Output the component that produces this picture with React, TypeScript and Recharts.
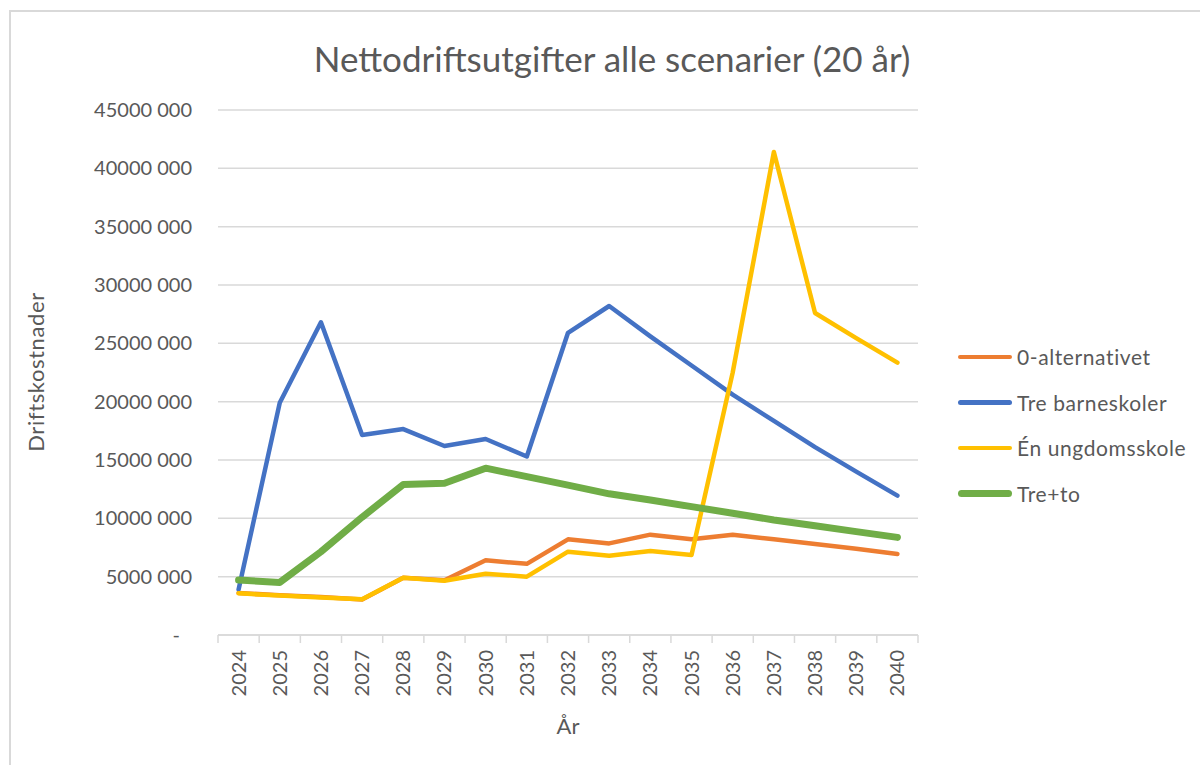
import React from "react";
import { LineChart, Line, XAxis, YAxis, CartesianGrid } from "recharts";

const years = [
  "2024", "2025", "2026", "2027", "2028", "2029", "2030", "2031", "2032",
  "2033", "2034", "2035", "2036", "2037", "2038", "2039", "2040",
];

// values in NOK
const nullAlternativet = [
  3600000, 3400000, 3250000, 3050000, 4900000, 4700000, 6400000, 6100000, 8200000,
  7850000, 8600000, 8200000, 8600000, 8200000, 7800000, 7400000, 6950000,
];
const treBarneskoler = [
  3900000, 19900000, 26800000, 17150000, 17650000, 16200000, 16800000, 15300000, 25900000,
  28200000, 25600000, 23100000, 20600000, 18350000, 16100000, 14000000, 11950000,
];
const enUngdomsskole = [
  3570000, 3380000, 3220000, 3060000, 4910000, 4650000, 5250000, 5000000, 7140000,
  6800000, 7200000, 6860000, 22500000, 41400000, 27600000, 25450000, 23350000,
];
const treTo = [
  4710000, 4510000, 7140000, 10100000, 12900000, 13000000, 14300000, 13570000, 12850000,
  12100000, 11570000, 11000000, 10430000, 9860000, 9370000, 8860000, 8370000,
];

const yTicks = [0, 5000000, 10000000, 15000000, 20000000, 25000000, 30000000, 35000000, 40000000, 45000000];

const seriesNames = ["0-alternativet", "Tre barneskoler", "Én ungdomsskole", "Tre+to"];
const seriesKeys = ["nullAlt", "treBarn", "enUng", "treTo"];
const seriesColors = ["#ED7D31", "#4472C4", "#FFC000", "#70AD47"];
const seriesWidths = [4.5, 4.5, 4.5, 7];

const data = years.map((year, i) => ({
  year,
  nullAlt: nullAlternativet[i],
  treBarn: treBarneskoler[i],
  enUng: enUngdomsskole[i],
  treTo: treTo[i],
}));

const FONT = "Lato, 'Open Sans', sans-serif";
const TEXT = "#595959";
const GRID = "#d9d9d9";

const PLOT_LEFT = 218;
const PLOT_RIGHT = 918;
const HALF_BAND = (PLOT_RIGHT - PLOT_LEFT) / years.length / 2;

function fmt(v: number) {
  if (v === 0) return "-";
  const thousands = Math.floor(v / 1000);
  const rest = String(v % 1000).padStart(3, "0");
  return `${thousands} ${rest}`;
}

const YTick = (props: any) => {
  const { x, y, payload } = props;
  const isZero = payload.value === 0;
  return (
    <text
      x={isZero ? x - 12 : x}
      y={y}
      dy={7}
      textAnchor="end"
      fill={TEXT}
      fontSize={20}
      fontFamily={FONT}
    >
      {fmt(payload.value)}
    </text>
  );
};

const XTick = (props: any) => {
  const { x, y, payload, index } = props;
  const last = index === years.length - 1;
  return (
    <g>
      <line x1={x - HALF_BAND} y1={y} x2={x - HALF_BAND} y2={y + 8} stroke={GRID} strokeWidth={1.5} />
      {last && (
        <line x1={x + HALF_BAND} y1={y} x2={x + HALF_BAND} y2={y + 8} stroke={GRID} strokeWidth={1.5} />
      )}
      <g transform={`translate(${x},${y})`}>
        <text
          transform="rotate(-90)"
          x={-15}
          y={7}
          textAnchor="end"
          fill={TEXT}
          fontSize={20}
          fontFamily={FONT}
        >
          {payload.value}
        </text>
      </g>
    </g>
  );
};

export default function App() {
  return (
    <div style={{ position: "absolute", left: 0, top: 0, width: 1200, height: 765, background: "#fff", overflow: "hidden", fontFamily: FONT }}>
      <div
        style={{
          position: "absolute",
          left: 9,
          top: 10,
          width: 1300,
          height: 800,
          border: `2px solid ${GRID}`,
          boxSizing: "border-box",
        }}
      />
      <div
        style={{
          position: "absolute",
          left: 0,
          width: 1224,
          top: 36,
          textAlign: "center",
          fontSize: 35,
          color: TEXT,
          lineHeight: "44px",
        }}
      >
        Nettodriftsutgifter alle scenarier (20 år)
      </div>
      <div
        style={{
          position: "absolute",
          left: 35,
          top: 372,
          transform: "translate(-50%, -50%) rotate(-90deg)",
          fontSize: 22,
          letterSpacing: 0.6,
          color: TEXT,
          whiteSpace: "nowrap",
        }}
      >
        Driftskostnader
      </div>
      <div
        style={{
          position: "absolute",
          left: 568,
          top: 725,
          transform: "translate(-50%, -50%)",
          fontSize: 22,
          color: TEXT,
        }}
      >
        År
      </div>
      <div style={{ position: "absolute", left: 0, top: 0 }}>
        <LineChart
          width={1200}
          height={765}
          data={data}
          margin={{ top: 110, right: 1200 - PLOT_RIGHT, bottom: 0, left: 0 }}
        >
          <CartesianGrid vertical={false} stroke={GRID} strokeWidth={1.5} />
          <XAxis
            dataKey="year"
            height={130}
            padding={{ left: HALF_BAND, right: HALF_BAND }}
            interval={0}
            tickLine={false}
            tickSize={0}
            tickMargin={0}
            axisLine={{ stroke: GRID, strokeWidth: 1.5 }}
            tick={<XTick />}
          />
          <YAxis
            width={PLOT_LEFT}
            domain={[0, 45000000]}
            ticks={yTicks}
            interval={0}
            axisLine={false}
            tickLine={false}
            tickSize={0}
            tickMargin={26}
            tick={<YTick />}
          />
          {seriesKeys.map((key, i) => (
            <Line
              key={key}
              type="linear"
              dataKey={key}
              name={seriesNames[i]}
              stroke={seriesColors[i]}
              strokeWidth={seriesWidths[i]}
              dot={false}
              activeDot={false}
              strokeLinecap="round"
              strokeLinejoin="round"
              isAnimationActive={false}
            />
          ))}
        </LineChart>
      </div>
      <div style={{ position: "absolute", left: 958, top: 334 }}>
        {seriesNames.map((name, i) => (
          <div key={name} style={{ display: "flex", alignItems: "center", height: 45.5 }}>
            <span
              style={{
                display: "inline-block",
                width: 54,
                height: seriesWidths[i],
                borderRadius: seriesWidths[i],
                background: seriesColors[i],
                marginRight: 5,
              }}
            />
            <span style={{ fontSize: 21, letterSpacing: 0.6, color: TEXT, whiteSpace: "nowrap" }}>{name}</span>
          </div>
        ))}
      </div>
    </div>
  );
}
